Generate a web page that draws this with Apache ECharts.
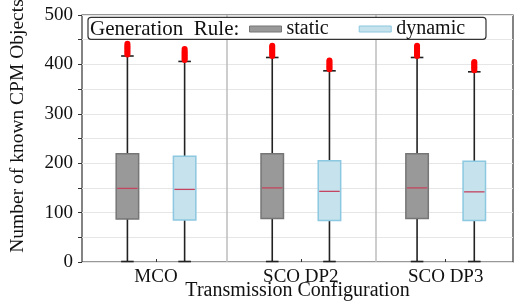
<!DOCTYPE html>
<html>
<head>
<meta charset="utf-8">
<script src="https://cdn.jsdelivr.net/npm/echarts@6/dist/echarts.min.js"></script>
<style>
  html, body { margin: 0; padding: 0; background: #fff; }
  #chart { width: 516px; height: 308px; }
</style>
</head>
<body>
<div id="chart"></div>
<script>
const categories = ['MCO', 'SCO DP2', 'SCO DP3'];
// min, Q1, median, Q3, upper whisker
const staticBox = [
  [1, 87, 149, 219, 417],
  [1, 88, 150, 219, 414],
  [1, 88, 150, 219, 414]
];
const dynamicBox = [
  [1, 85, 147, 214, 406],
  [1, 84, 143, 205, 387],
  [1, 84, 142, 204, 385]
];
// outliers above the upper whisker (dense clusters)
const staticOutliers = [
  [420, 423, 426, 429, 432, 435, 438, 442],
  [417, 420, 423, 426, 429, 432, 435, 438],
  [417, 420, 423, 426, 429, 432, 435, 438]
];
const dynamicOutliers = [
  [409, 412, 415, 418, 421, 424, 427, 431],
  [390, 393, 396, 399, 402, 405, 408],
  [388, 391, 394, 397, 400, 403, 405]
];

const FONT = 'Liberation Serif';
const STATIC_FILL = '#999999', STATIC_BORDER = '#767676';
const DYN_FILL = '#c5e2ed', DYN_BORDER = '#8cc8e0';
const MEDIAN = '#c4455f';

function boxRenderer(shift, fill, border) {
  return function (params, api) {
    const i = api.value(0);
    const band = api.size([1, 0])[0];
    const x = api.coord([i, 0])[0] + shift * band;
    const w = band * 0.155, cap = band * 0.087;
    const y = [1, 2, 3, 4, 5].map(function (d) { return api.coord([i, api.value(d)])[1]; });
    const ws = { stroke: '#222', lineWidth: 1.6 };
    return {
      type: 'group',
      children: [
        { type: 'line', shape: { x1: x, y1: y[0], x2: x, y2: y[1] }, style: ws },
        { type: 'line', shape: { x1: x, y1: y[3], x2: x, y2: y[4] }, style: ws },
        { type: 'line', shape: { x1: x - cap / 2, y1: y[0], x2: x + cap / 2, y2: y[0] }, style: ws },
        { type: 'line', shape: { x1: x - cap / 2, y1: y[4], x2: x + cap / 2, y2: y[4] }, style: ws },
        { type: 'rect', shape: { x: x - w / 2, y: y[3], width: w, height: y[1] - y[3] },
          style: { fill: fill, stroke: border, lineWidth: 1.5 } },
        { type: 'line', shape: { x1: x - w / 2 + 1, y1: y[2], x2: x + w / 2 - 1, y2: y[2] },
          style: { stroke: MEDIAN, lineWidth: 1.3 } }
      ]
    };
  };
}

function outlierRenderer(shift) {
  return function (params, api) {
    const i = api.value(0);
    const band = api.size([1, 0])[0];
    const p = api.coord([i, api.value(1)]);
    return { type: 'circle', shape: { cx: p[0] + shift * band, cy: p[1], r: 3 }, style: { fill: '#ff0000' } };
  };
}

function flatOutliers(list) {
  const out = [];
  list.forEach(function (vals, i) { vals.forEach(function (v) { out.push([i, v]); }); });
  return out;
}

const chart = echarts.init(document.getElementById('chart'));
chart.setOption({
  animation: false,
  grid: [
    { left: 82, top: 15, right: 3, bottom: 46, outerBoundsMode: 'none', containLabel: false,
      show: true, borderColor: '#333', borderWidth: 1.2 },
    { left: 83.6, top: 15, width: 434.5, bottom: 46, outerBoundsMode: 'none', containLabel: false }
  ],
  xAxis: [
    { gridIndex: 0, type: 'value', min: 0, max: 1,
      axisLine: { show: false }, axisTick: { show: false }, axisLabel: { show: false }, splitLine: { show: false },
      name: 'Transmission Configuration', nameLocation: 'middle', nameGap: 19,
      nameTextStyle: { fontFamily: FONT, fontSize: 20, color: '#111' } },
    { gridIndex: 1, type: 'category', data: categories, boundaryGap: true,
      axisLine: { show: false },
      axisTick: { show: true, alignWithLabel: true, inside: true, length: 3, lineStyle: { color: '#333' } },
      axisLabel: { fontFamily: FONT, fontSize: 19, color: '#111', margin: 6 },
      splitLine: { show: false } },
    { gridIndex: 1, type: 'value', min: -0.5, max: 2.5, show: false }
  ],
  yAxis: [
    { gridIndex: 0, type: 'value', min: 0, max: 500, interval: 50,
      axisLine: { show: false },
      axisTick: { show: true, length: 4, lineStyle: { color: '#333' } },
      axisLabel: { fontFamily: FONT, fontSize: 19, color: '#111', margin: 9,
        formatter: function (v) { return v % 100 === 0 ? String(v) : ''; } },
      splitLine: { show: true, lineStyle: { color: '#e6e6e6', width: 1 } },
      name: 'Number of known CPM Objects', nameLocation: 'middle', nameGap: 54,
      nameTextStyle: { fontFamily: FONT, fontSize: 19.5, color: '#111', padding: [0, 0, 0, 25] } },
    { gridIndex: 1, type: 'value', min: 0, max: 500, show: false }
  ],
  legend: {
    left: 249, top: 19, padding: 0, itemWidth: 32, itemHeight: 6, itemGap: 30, z: 12,
    textStyle: { fontFamily: FONT, fontSize: 20, color: '#111' },
    data: [
      { name: 'static', icon: 'rect', itemStyle: { color: STATIC_FILL, borderColor: STATIC_BORDER, borderWidth: 1 } },
      { name: 'dynamic', icon: 'rect', itemStyle: { color: DYN_FILL, borderColor: DYN_BORDER, borderWidth: 1 } }
    ]
  },
  graphic: [
    { type: 'rect', z: 10, shape: { x: 88, y: 17.3, width: 398, height: 22, r: 3 },
      style: { fill: '#fff', stroke: '#333', lineWidth: 1.2 } },
    { type: 'text', z: 11, x: 90, y: 29, style: { text: 'Generation  Rule:', font: '21px "Liberation Serif"', fill: '#111', verticalAlign: 'middle' } }
  ],
  series: [
    { name: 'separators', type: 'line', xAxisIndex: 2, yAxisIndex: 1, data: [], silent: true,
      markLine: { symbol: 'none', silent: true, label: { show: false },
        lineStyle: { type: 'solid', color: '#bdbdbd', width: 1.5 },
        data: [{ xAxis: 0.495 }, { xAxis: 1.522 }] } },
    { name: 'static', type: 'custom', xAxisIndex: 1, yAxisIndex: 1,
      itemStyle: { color: STATIC_FILL },
      encode: { x: 0, y: [1, 2, 3, 4, 5] },
      renderItem: boxRenderer(-0.1975, STATIC_FILL, STATIC_BORDER),
      data: staticBox.map(function (b, i) { return [i].concat(b); }) },
    { name: 'dynamic', type: 'custom', xAxisIndex: 1, yAxisIndex: 1,
      itemStyle: { color: DYN_FILL },
      encode: { x: 0, y: [1, 2, 3, 4, 5] },
      renderItem: boxRenderer(0.1975, DYN_FILL, DYN_BORDER),
      data: dynamicBox.map(function (b, i) { return [i].concat(b); }) },
    { name: 'static outliers', type: 'custom', xAxisIndex: 1, yAxisIndex: 1,
      encode: { x: 0, y: 1 },
      renderItem: outlierRenderer(-0.1975),
      data: flatOutliers(staticOutliers) },
    { name: 'dynamic outliers', type: 'custom', xAxisIndex: 1, yAxisIndex: 1,
      encode: { x: 0, y: 1 },
      renderItem: outlierRenderer(0.1975),
      data: flatOutliers(dynamicOutliers) }
  ]
});
</script>
</body>
</html>
